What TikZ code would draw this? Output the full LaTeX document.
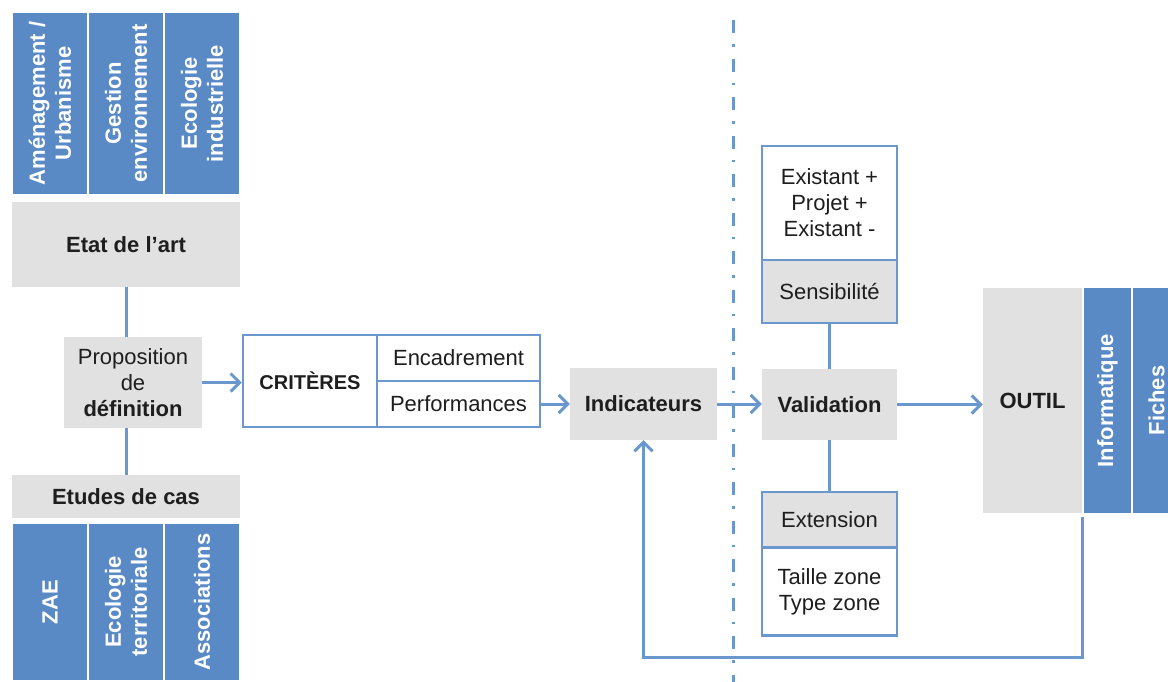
\documentclass[tikz,border=0pt]{standalone}
\usepackage{fontspec}
\setmainfont{Liberation Sans}
\usetikzlibrary{arrows.meta}
\definecolor{bandblue}{HTML}{5A8AC6}
\definecolor{boxgrey}{HTML}{E1E1E1}
\definecolor{lineblue}{HTML}{6A97CD}
\definecolor{ink}{HTML}{1E1E1E}
\newcommand{\txt}{\fontsize{22}{26}\selectfont}
\begin{document}
\begin{tikzpicture}[x=1pt,y=-1pt,
    band/.style={fill=bandblue, draw=white, line width=2pt, text=white, font=\txt\bfseries,
      rotate=90, align=center, inner sep=0pt},
    greybox/.style={fill=boxgrey, inner sep=0pt, align=center, text=ink, font=\txt},
    framebox/.style={fill=white, draw=lineblue, line width=2.5pt, inner sep=0pt, align=center,
      text=ink, font=\txt},
    link/.style={draw=lineblue, line width=3pt},
    flow/.style={link, -{Straight Barb[length=9pt,width=18pt]}},
    divider/.style={draw=lineblue, line width=3pt, dash pattern=on 13pt off 11pt on 2.5pt off 12pt}]
        \useasboundingbox (0,0) rectangle (1168,681);
        % bands above the state of the art
        \node[band, minimum width=183, minimum height=76] (amen) at (50, 103.5) {Aménagement /\\Urbanisme};
        \node[band, minimum width=183, minimum height=76] (gest) at (126, 103.5) {Gestion\\environnement};
        \node[band, minimum width=183, minimum height=76] (ecoind) at (202, 103.5) {Ecologie\\industrielle};
        \node[greybox, minimum width=228, minimum height=85, font=\txt\bfseries] (etat) at (126, 244.5) {Etat de l’art};
        \node[greybox, minimum width=138, minimum height=91] (prop) at (133, 382.5) {Proposition\\de\\\textbf{définition}};
        \node[greybox, minimum width=228, minimum height=43, font=\txt\bfseries] (etudes) at (126, 496.5) {Etudes de cas};
        % bands below the case studies
        \node[band, minimum width=158, minimum height=76] (zae) at (50, 602) {ZAE};
        \node[band, minimum width=158, minimum height=76] (ecoter) at (126, 602) {Ecologie\\territoriale};
        \node[band, minimum width=158, minimum height=76] (assoc) at (202, 602) {Associations};
        % criteria
        \node[framebox, minimum width=134, minimum height=92, font=\fontsize{20}{24}\selectfont\bfseries] (crit) at (310, 381) {CRITÈRES};
        \node[framebox, minimum width=163, minimum height=46] (enc) at (458.5, 358) {Encadrement};
        \node[framebox, minimum width=163, minimum height=46] (perf) at (458.5, 404) {Performances};
        \node[greybox, minimum width=147, minimum height=72, font=\txt\bfseries] (indic) at (643.5, 404) {Indicateurs};
        % validation column
        \node[framebox, minimum width=135, minimum height=114] (exist) at (829.5, 203) {Existant +\\Projet +\\Existant -};
        \node[framebox, fill=boxgrey, minimum width=135, minimum height=63] (sensib) at (829.5, 291.5) {Sensibilité};
        \node[greybox, minimum width=135, minimum height=71, font=\txt\bfseries] (valid) at (829.5, 404.5) {Validation};
        \node[framebox, minimum width=135, minimum height=88] (taille) at (829.5, 591.5) {Taille zone\\Type zone};
        \node[framebox, fill=boxgrey, minimum width=135, minimum height=55] (extens) at (829.5, 519.5) {Extension};
        % tool
        \node[greybox, minimum width=99, minimum height=225, font=\txt\bfseries] (outil) at (1032.5, 400.5) {OUTIL};
        \node[band, minimum width=227, minimum height=49] (info) at (1107.5, 400.5) {Informatique};
        \node[band, minimum width=227, minimum height=49] (fiches) at (1156.5, 400.5) {Fiches};
        % connectors
        \draw[link] (etat) -- (etat |- prop.north);
        \draw[link] (prop.south -| etat) -- (etudes.north);
        \draw[flow] (prop.east) -- (prop.east -| crit.west);
        \draw[flow] (perf.east) -- (perf.east -| indic.west);
        \draw[flow] (indic.east) -- (indic.east -| valid.west);
        \draw[flow] (valid.east) -- (valid.east -| outil.west);
        \draw[link] (sensib.south) -- (valid.north);
        \draw[link] (valid.south) -- (extens.north);
        \coordinate (ret) at (1082, 517);
        \coordinate (low) at (1082, 657);
        \draw[flow] (ret) -- (low) -| (indic.south);
        \coordinate (sepTop) at (733, 20);
        \coordinate (sepBot) at (733, 690);
        \draw[divider] (sepTop) -- (sepBot);
\end{tikzpicture}
\end{document}
